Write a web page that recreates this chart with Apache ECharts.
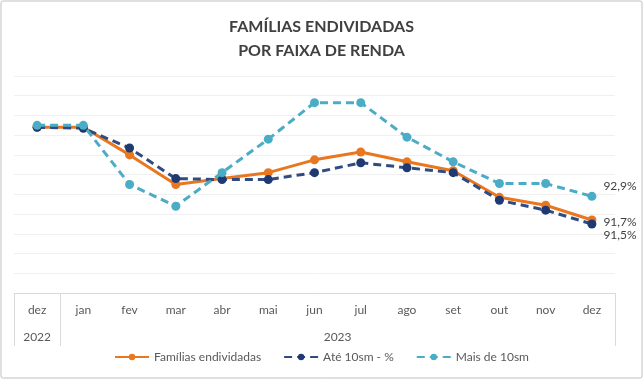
<!DOCTYPE html>
<html>
<head>
<meta charset="utf-8">
<script src="https://cdn.jsdelivr.net/npm/echarts@6/dist/echarts.min.js"></script>
<style>
html,body{margin:0;padding:0;background:#fff;}
#c{width:643px;height:384px;}
</style>
</head>
<body>
<div id="c"></div>
<script>
var months = ['dez','jan','fev','mar','abr','mai','jun','jul','ago','set','out','nov','dez'];
var yearLabels = ['2022','2023'];
var seriesNames = ['Famílias endividadas','Até 10sm - %','Mais de 10sm'];
var familias = [96.4, 96.4, 95.0, 93.5, 93.8, 94.1, 94.75, 95.15, 94.65, 94.2, 92.85, 92.45, 91.7];
var ate10sm  = [96.4, 96.35, 95.35, 93.8, 93.75, 93.75, 94.1, 94.6, 94.35, 94.1, 92.7, 92.2, 91.5];
var mais10sm = [96.5, 96.5, 93.5, 92.4, 94.1, 95.8, 97.65, 97.65, 95.9, 94.65, 93.55, 93.55, 92.9];

function withEndLabel(arr, offY) {
  return arr.map(function (v, i) {
    if (i === arr.length - 1) {
      return { value: v, label: { show: true, position: 'right', distance: 7, offset: [0, offY],
        color: '#404040', fontSize: 12, fontFamily: 'Lato',
        formatter: function (p) { return p.value.toFixed(1).replace('.', ',') + '%'; } } };
    }
    return v;
  });
}

var chart = echarts.init(document.getElementById('c'), null, {renderer: 'canvas'});
chart.setOption({
  animation: false,
  title: {
    text: 'FAMÍLIAS ENDIVIDADAS\nPOR FAIXA DE RENDA',
    left: 'center', top: 10,
    textStyle: { fontFamily: 'Lato', fontWeight: 'bold', fontSize: 16, color: '#404040', lineHeight: 24 }
  },
  grid: { left: 14, right: 28, top: 76, bottom: 91, containLabel: false },
  legend: {
    bottom: 16, left: 'center',
    itemWidth: 34, itemHeight: 8, itemGap: 22,
    textStyle: { fontFamily: 'Lato', fontSize: 12, color: '#595959' },
    data: seriesNames
  },
  xAxis: [{
    type: 'category', data: months, boundaryGap: true, position: 'bottom',
    axisLine: { show: false }, axisTick: { show: false },
    axisLabel: { margin: 11, color: '#595959', fontFamily: 'Lato', fontSize: 12, interval: 0 }
  }, {
    type: 'value', min: 0, max: 13, position: 'bottom',
    axisLine: { show: true, lineStyle: { color: '#d9d9d9', width: 1 } },
    axisTick: { show: true, customValues: [0, 1, 13], length: 53, inside: false, lineStyle: { color: '#d9d9d9', width: 1 } },
    splitLine: { show: false },
    axisLabel: { show: true, customValues: [0.5, 7], margin: 38, color: '#595959', fontFamily: 'Lato', fontSize: 12,
      formatter: function (v) { return v < 1 ? yearLabels[0] : yearLabels[1]; } }
  }],
  yAxis: {
    type: 'value', min: 88, max: 99, interval: 1,
    axisLine: { show: false }, axisTick: { show: false }, axisLabel: { show: false },
    splitLine: { show: true, lineStyle: { color: '#f0f0f0', width: 1 } }
  },
  series: [{
    name: seriesNames[0], type: 'line', data: withEndLabel(familias, 2),
    symbol: 'circle', symbolSize: 9,
    lineStyle: { color: '#E8771F', width: 3 },
    itemStyle: { color: '#E8771F' }, z: 2
  }, {
    name: seriesNames[1], type: 'line', data: withEndLabel(ate10sm, 11),
    symbol: 'circle', symbolSize: 9,
    lineStyle: { color: '#2F4B82', width: 3, type: [8, 5] },
    itemStyle: { color: '#1F3A72' }, z: 3
  }, {
    name: seriesNames[2], type: 'line', data: withEndLabel(mais10sm, -10),
    symbol: 'circle', symbolSize: 9,
    lineStyle: { color: '#4BACC6', width: 3, type: [8, 5] },
    itemStyle: { color: '#4BACC6' }, z: 4
  }],
  graphic: [{
    type: 'rect', shape: { x: 1, y: 1, width: 641, height: 377, r: 2 },
    style: { fill: 'none', stroke: '#c0c0c0', lineWidth: 1 }, silent: true, z: -1
  }]
});
</script>
</body>
</html>
